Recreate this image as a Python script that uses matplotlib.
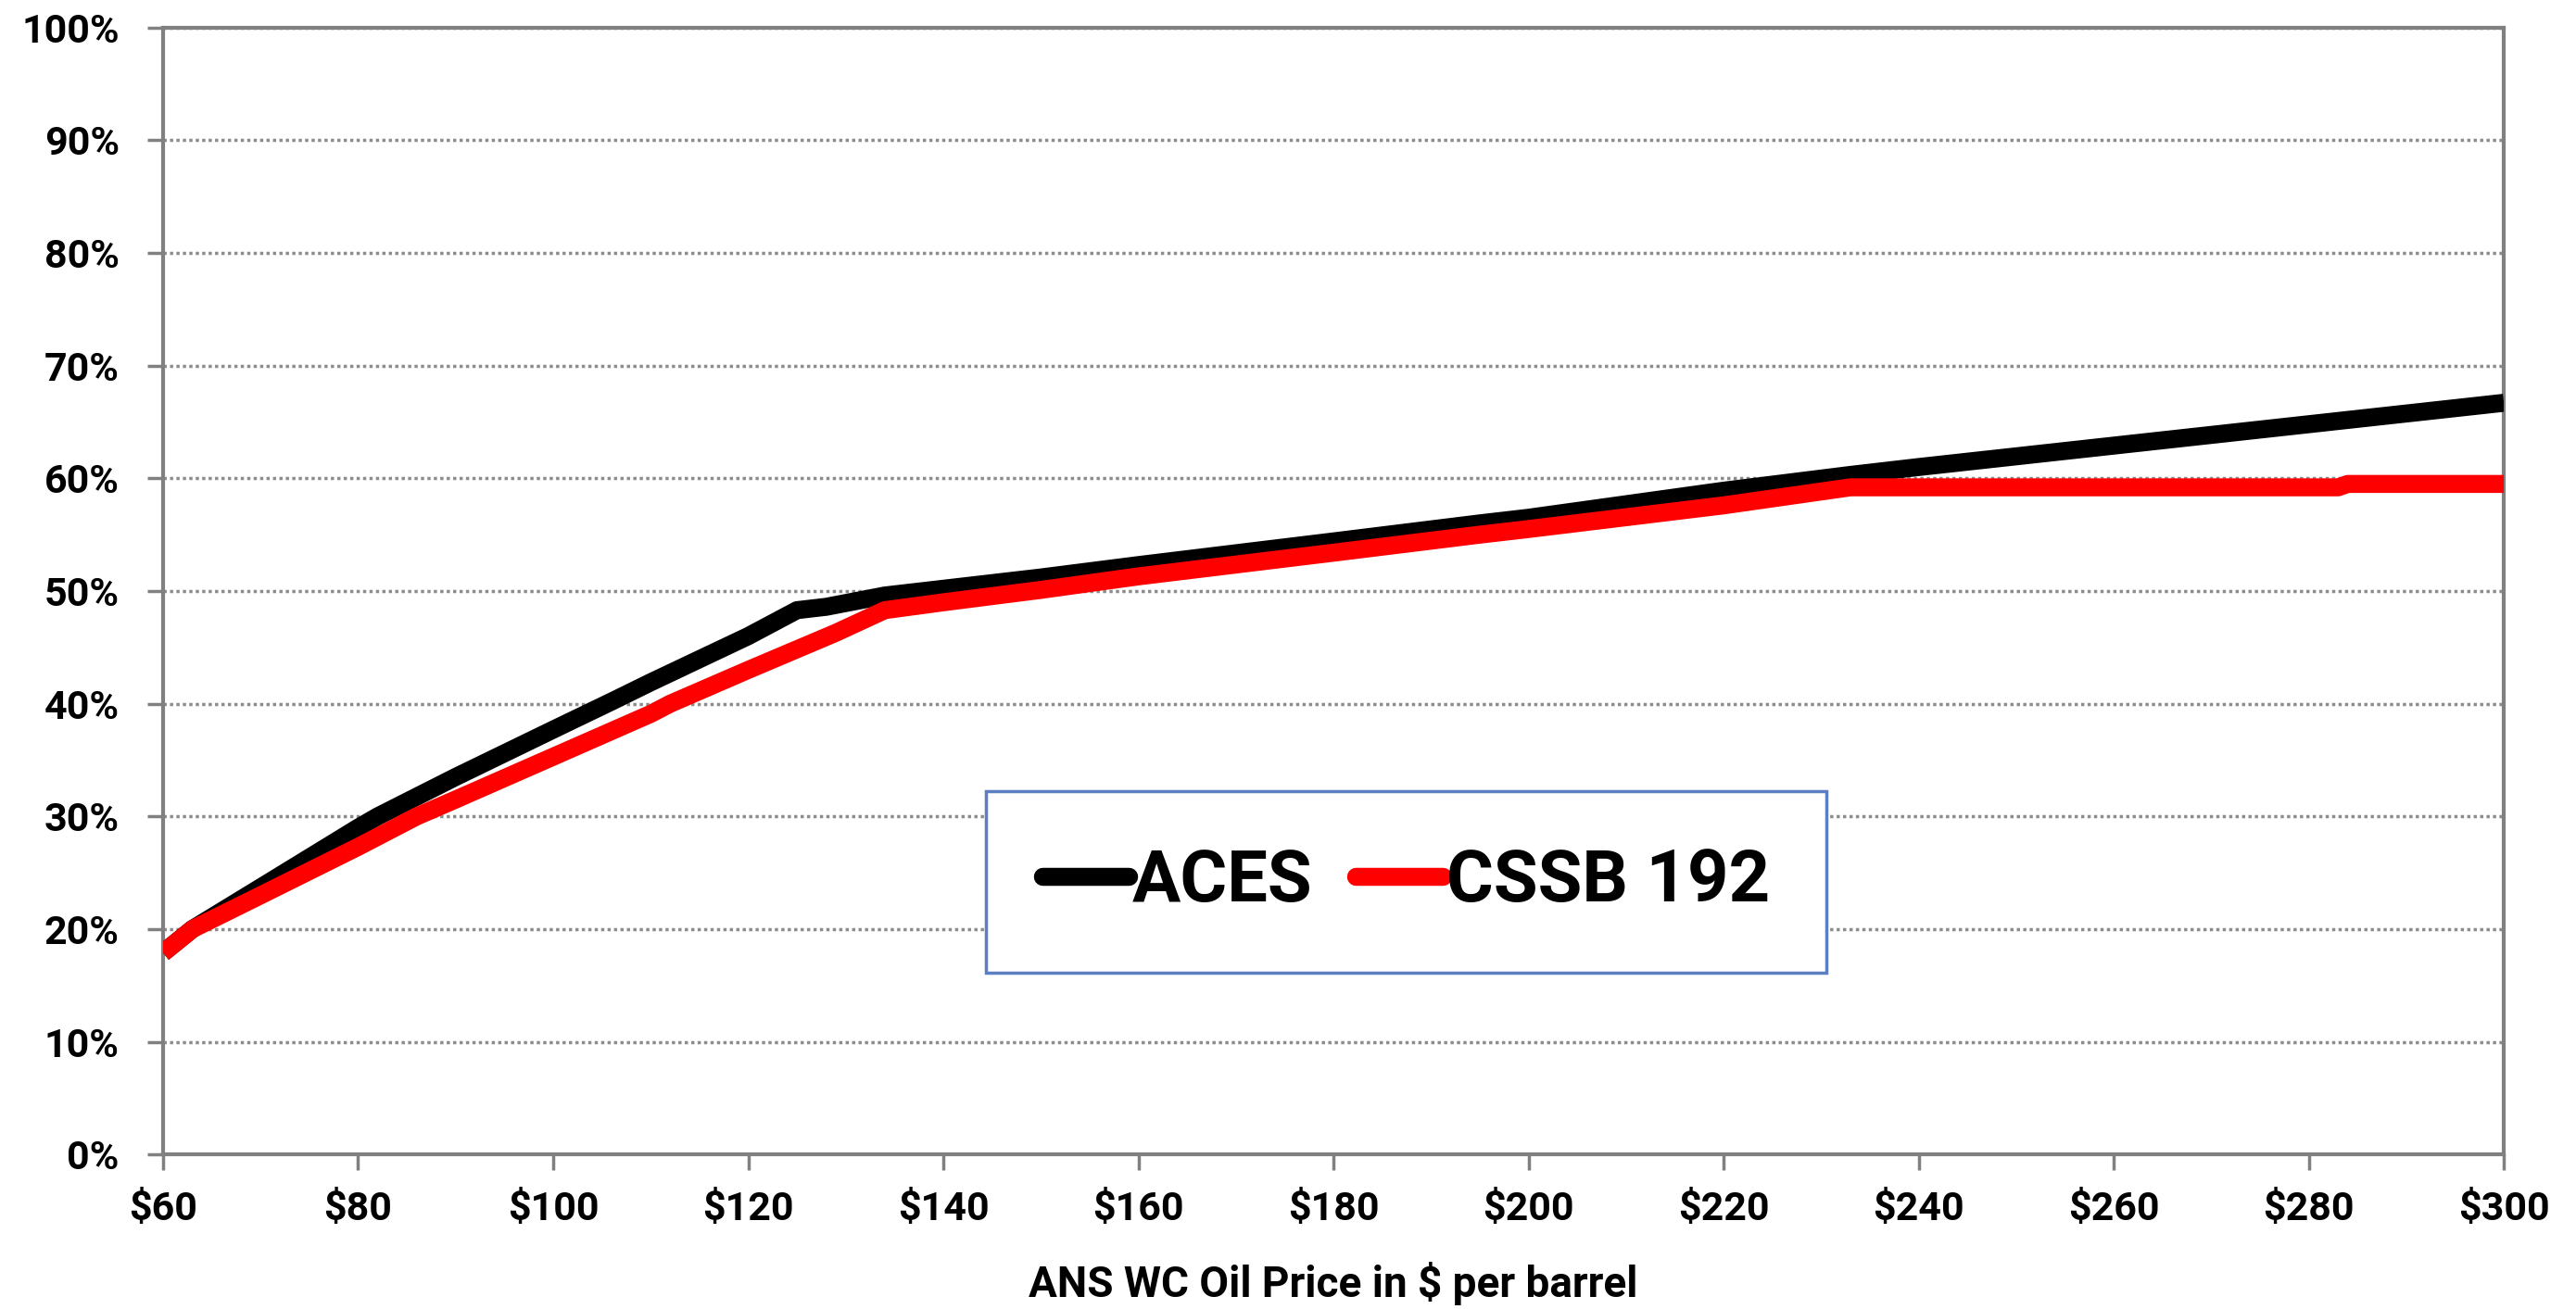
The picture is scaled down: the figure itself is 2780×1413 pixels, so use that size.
import matplotlib
matplotlib.use("Agg")
import matplotlib.pyplot as plt
from matplotlib import font_manager
from matplotlib.ticker import FuncFormatter, MultipleLocator

# oil price ($/bbl) and effective tax share (%)
aces_price = [60, 63, 70, 80, 82, 90, 100, 106, 110, 120, 125, 128, 134, 140,
              150, 160, 180, 195, 200, 220, 233, 240, 260, 280, 300]
aces_share = [17.9, 20.0, 23.7, 29.0, 30.0, 33.5, 37.7, 40.2, 41.9, 46.0, 48.3,
              48.6, 49.6, 50.2, 51.2, 52.3, 54.4, 56.0, 56.5, 58.9, 60.3, 61.0,
              62.9, 64.8, 66.7]

cssb_price = [60, 63, 70, 80, 86, 90, 100, 110, 112, 120, 129, 134, 140, 150,
              160, 180, 195, 200, 220, 233, 283, 284, 300]
cssb_share = [17.9, 20.0, 23.0, 27.3, 30.0, 31.5, 35.3, 39.1, 40.0, 43.0, 46.3,
              48.3, 49.0, 50.1, 51.3, 53.4, 55.0, 55.5, 57.6, 59.2, 59.2, 59.5,
              59.5]

series_names = ["ACES", "CSSB 192"]
x_label = "ANS WC Oil Price in $ per barrel"

# pick a family that really has a bold face
bold_faces = {f.name for f in font_manager.fontManager.ttflist
              if isinstance(f.weight, int) and f.weight >= 700
              or f.weight in ("bold", "heavy", "black")}
family = "Open Sans"
for name in ["Roboto", "Open Sans"]:
    if name in bold_faces:
        family = name
        break
plt.rcParams["font.family"] = [family, "DejaVu Sans"]
plt.rcParams["font.weight"] = "bold"

fig = plt.figure(figsize=(27.8, 14.13), dpi=100)
ax = fig.add_axes([0.0633, 0.118, 0.9087, 0.861])

ax.plot(aces_price, aces_share, color="black", lw=14, label=series_names[0],
        solid_capstyle="butt", solid_joinstyle="round", zorder=3)
ax.plot(cssb_price, cssb_share, color="#fe0000", lw=14, label=series_names[1],
        solid_capstyle="butt", solid_joinstyle="round", zorder=4)

ax.set_xlim(60, 300)
ax.set_ylim(0, 100)
ax.xaxis.set_major_locator(MultipleLocator(20))
ax.yaxis.set_major_locator(MultipleLocator(10))
ax.xaxis.set_major_formatter(FuncFormatter(lambda v, p: f"${v:.0f}"))
ax.yaxis.set_major_formatter(FuncFormatter(lambda v, p: f"{v:.0f}%"))

ax.grid(axis="y", color="#8c8c8c", lw=2.5, ls=(0, (1, 1)), zorder=1)
for s in ax.spines.values():
    s.set_color("#808080")
    s.set_linewidth(3)

ax.tick_params(axis="both", colors="#808080", width=2.5, length=12,
               labelcolor="black", labelsize=31)
ax.tick_params(axis="x", pad=16)
ax.tick_params(axis="y", pad=22)
for lab in ax.get_xticklabels() + ax.get_yticklabels():
    lab.set_fontweight("bold")

ax.set_xlabel(x_label, fontsize=33, fontweight="bold", labelpad=26)

leg = ax.legend(loc="center", bbox_to_anchor=(0.531, 0.242), ncol=2,
                prop={"weight": "bold", "size": 56},
                handlelength=1.2, handletextpad=0.05, columnspacing=0.6,
                borderpad=0.78, fancybox=False, framealpha=1)
leg.get_frame().set_edgecolor("#5b7fc0")
leg.get_frame().set_linewidth(2.5)
for line in leg.get_lines():
    line.set_solid_capstyle("round")

fig.savefig("out.png", dpi=100)
